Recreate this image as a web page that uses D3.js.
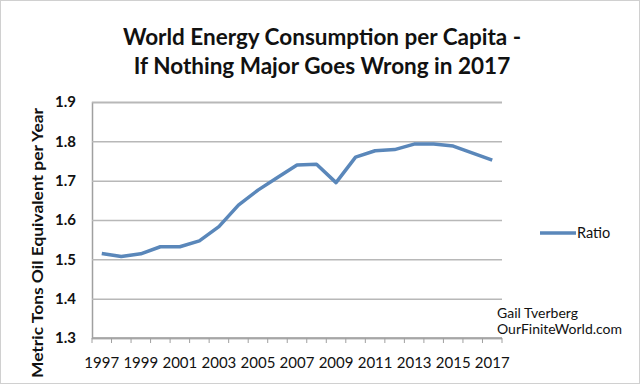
<!DOCTYPE html>
<html>
<head>
<meta charset="utf-8">
<script src="https://cdn.jsdelivr.net/npm/d3@7"></script>
<style>
  body { margin: 0; background: #fff; }
  text { font-family: Lato, "Open Sans", sans-serif; fill: #111; }
</style>
</head>
<body>
<div id="chart"></div>
<script>
/* ---------- data ---------- */
var years = [1997, 1998, 1999, 2000, 2001, 2002, 2003, 2004, 2005, 2006, 2007,
             2008, 2009, 2010, 2011, 2012, 2013, 2014, 2015, 2016, 2017];
var ratio = [1.515, 1.507, 1.514, 1.532, 1.532, 1.547, 1.583, 1.638, 1.676, 1.708, 1.740,
             1.742, 1.695, 1.760, 1.776, 1.779, 1.793, 1.793, 1.788, 1.770, 1.752];
var yTicks = [1.3, 1.4, 1.5, 1.6, 1.7, 1.8, 1.9];
var titleLines = ["World Energy Consumption per Capita -", "If Nothing Major Goes Wrong in 2017"];
var seriesName = "Ratio";
var credit = ["Gail Tverberg", "OurFiniteWorld.com"];

/* ---------- layout ---------- */
var W = 640, H = 384;
var plot = { left: 92, right: 502, top: 102, bottom: 338 };
var lineColor = "#5a87ba";

var svg = d3.select("#chart").append("svg")
    .attr("width", W).attr("height", H);

svg.append("rect")
    .attr("x", 0.5).attr("y", 0.5)
    .attr("width", W - 1).attr("height", H - 1)
    .attr("fill", "#fff").attr("stroke", "#d0d0d0");

var x = d3.scaleBand()
    .domain(years)
    .range([plot.left, plot.right]);

var y = d3.scaleLinear()
    .domain([1.3, 1.9])
    .range([plot.bottom, plot.top]);

/* ---------- title ---------- */
svg.append("g").selectAll("text")
    .data(titleLines)
    .enter().append("text")
    .attr("x", 322)
    .attr("y", function(d, i) { return 45 + i * 29; })
    .attr("text-anchor", "middle")
    .attr("font-size", "22.5px")
    .attr("font-weight", "bold")
    .text(function(d) { return d; });

/* ---------- grid + y axis ---------- */
svg.append("g")
    .attr("transform", "translate(" + plot.left + ",0)")
    .call(d3.axisLeft(y).tickValues(yTicks).tickFormat(d3.format(".1f"))
        .tickSize(-(plot.right - plot.left)).tickPadding(16))
    .call(function(g) {
      g.select(".domain").attr("stroke", "#a0a0a0").attr("stroke-width", 1.5);
      g.selectAll(".tick line").attr("stroke", "#b8b8b8").attr("stroke-width", 1.5);
      g.selectAll(".tick text")
          .attr("font-family", "Lato, sans-serif")
          .attr("font-size", "15px")
          .attr("font-weight", "bold")
          .attr("fill", "#222");
    });

/* ---------- x axis ---------- */
var xAxis = svg.append("g")
    .attr("transform", "translate(0," + plot.bottom + ")");

xAxis.append("line")
    .attr("x1", plot.left).attr("x2", plot.right)
    .attr("stroke", "#a0a0a0").attr("stroke-width", 1.5);

var boundaries = years.map(function(d) { return x(d); }).concat([plot.right]);
xAxis.selectAll("line.tick")
    .data(boundaries)
    .enter().append("line")
    .attr("class", "tick")
    .attr("x1", function(d) { return d; }).attr("x2", function(d) { return d; })
    .attr("y1", 0).attr("y2", 5)
    .attr("stroke", "#a0a0a0");

xAxis.selectAll("text")
    .data(years.filter(function(d, i) { return i % 2 === 0; }))
    .enter().append("text")
    .attr("x", function(d) { return x(d) + x.bandwidth() / 2; })
    .attr("y", 30)
    .attr("text-anchor", "middle")
    .attr("font-size", "15px")
    .text(function(d) { return d; });

/* ---------- y axis title ---------- */
svg.append("text")
    .attr("transform", "translate(43,243) rotate(-90)")
    .attr("text-anchor", "middle")
    .attr("font-size", "15.5px")
    .attr("font-weight", "bold")
    .attr("textLength", 270)
    .attr("lengthAdjust", "spacingAndGlyphs")
    .text("Metric Tons Oil Equivalent per Year");

/* ---------- line ---------- */
var line = d3.line()
    .x(function(d, i) { return x(years[i]) + x.bandwidth() / 2; })
    .y(function(d) { return y(d); });

svg.append("path")
    .datum(ratio)
    .attr("d", line)
    .attr("fill", "none")
    .attr("stroke", lineColor)
    .attr("stroke-width", 3.5)
    .attr("stroke-linejoin", "round");

/* ---------- legend ---------- */
svg.append("line")
    .attr("x1", 540).attr("x2", 576)
    .attr("y1", 233).attr("y2", 233)
    .attr("stroke", lineColor).attr("stroke-width", 3.5);

svg.append("text")
    .attr("x", 577).attr("y", 238)
    .attr("font-size", "14.5px")
    .text(seriesName);

/* ---------- credit ---------- */
svg.append("g").selectAll("text")
    .data(credit)
    .enter().append("text")
    .attr("x", 497)
    .attr("y", function(d, i) { return 318 + i * 16; })
    .attr("font-size", "14px")
    .text(function(d) { return d; });
</script>
</body>
</html>
